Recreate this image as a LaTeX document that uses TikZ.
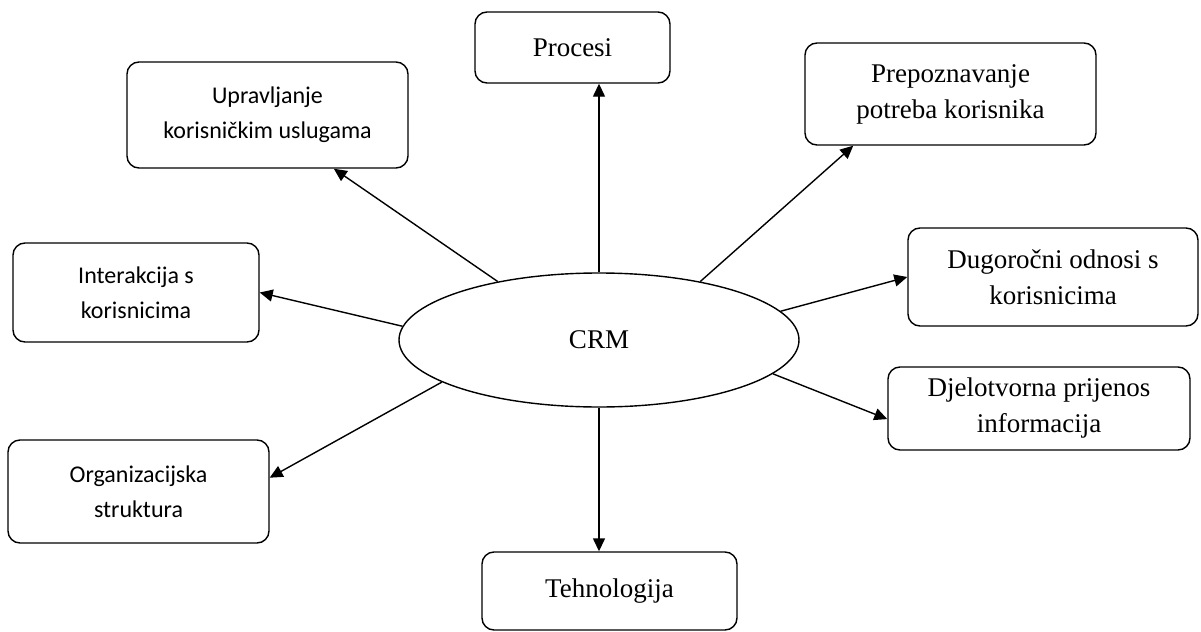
\documentclass[tikz,border=0pt]{standalone}
\usepackage{fontspec}
\setmainfont{Liberation Serif}
\newfontfamily\calibri{Carlito}
\usetikzlibrary{arrows.meta}
\usetikzlibrary{shapes.geometric}
\tikzset{box/.style={draw, rounded corners=6pt, align=center, line width=0.7pt, inner sep=0pt}}
\tikzset{serif text/.style={font=\fontsize{13.5}{18}\selectfont}}
\tikzset{sans text/.style={font=\calibri\fontsize{12}{17.5}\selectfont}}
\tikzset{link/.style={-{Triangle[length=6.5pt, width=6pt]}, line width=0.7pt}}

\begin{document}
\begin{tikzpicture}[x=0.5pt, y=-0.5pt]
    \useasboundingbox (0,0) rectangle (1201,632);
    \node[draw, ellipse, minimum width=200pt, minimum height=67pt, inner sep=0pt,
        line width=0.7pt, serif text] (crm) at (599,340) {CRM};

    \node[box, serif text, minimum width=97.5pt, minimum height=35.5pt] (proc) at (572.5,47.5) {Procesi};
    \node[box, sans text, minimum width=140.5pt, minimum height=53pt] (uprav) at (267.5,115)
        {Upravljanje\\korisničkim uslugama};
    \node[box, serif text, minimum width=145.5pt, minimum height=51pt] (prep) at (950.5,94)
        {Prepoznavanje\\potreba korisnika};
    \node[box, sans text, minimum width=123pt, minimum height=49.5pt] (inter) at (136,292.5)
        {Interakcija s\\korisnicima};
    \node[box, serif text, minimum width=145pt, minimum height=49pt] (dug) at (1053,277)
        {Dugoročni odnosi s\\korisnicima};
    \node[box, serif text, minimum width=151pt, minimum height=41.5pt] (djel) at (1039,408.5)
        {Djelotvorna prijenos\\informacija};
    \node[box, sans text, minimum width=130.5pt, minimum height=51.5pt] (org) at (138.5,491.5)
        {Organizacijska\\struktura};
    \node[box, serif text, minimum width=127.5pt, minimum height=39pt] (teh) at (609.5,591) {Tehnologija};

    \draw[link] (crm.north) -- (crm.north |- proc.south);
    \draw[link] (crm.150.7) -- (uprav.-39);
    \draw[link] (crm.30) -- (prep.208);
    \draw[link] (crm.176) -- (inter.east);
    \draw[link] (crm.9.6) -- (dug.west);
    \draw[link] (crm.-11) -- (djel.184);
    \draw[link] (crm.195.6) -- (org.6);
    \draw[link] (crm.south) -- (crm.south |- teh.north);
\end{tikzpicture}
\end{document}
